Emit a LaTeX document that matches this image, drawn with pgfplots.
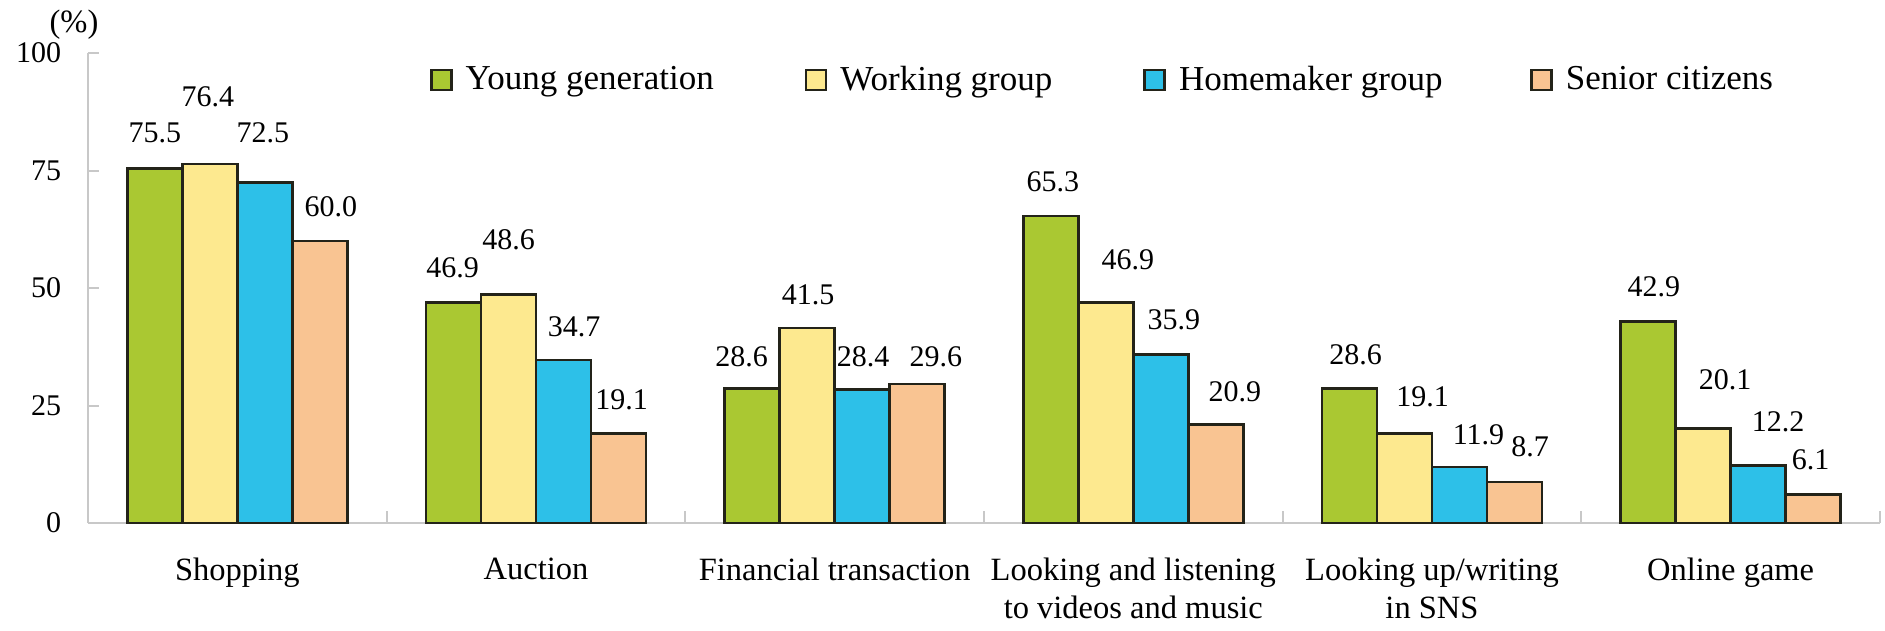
\documentclass[border=0pt]{standalone}
\usepackage{pgfplots}
\pgfplotsset{compat=1.18}
\usepackage{pgfplotstable}
\usepackage{fontspec}
\setmainfont{Liberation Serif}
\definecolor{cG}{RGB}{170,200,50}
\definecolor{cY}{RGB}{253,233,143}
\definecolor{cB}{RGB}{45,192,232}
\definecolor{cO}{RGB}{249,196,146}
\definecolor{barline}{RGB}{35,35,25}
\definecolor{axgray}{RGB}{200,200,200}

% columns: category index, value, label offset x (px), label offset y (px)
\pgfplotstableread{
x y dx dy
0 75.5 0 35
1 46.9 -1 34.6
2 28.6 -10.5 32
3 65.3 2 34.4
4 28.6 6 33.6
5 42.9 5.6 34.7
}\young
\pgfplotstableread{
x y dx dy
0 76.4 -2 67
1 48.6 0 54.6
2 41.5 1 33
3 46.9 22 42.6
4 19.1 18 36.5
5 20.1 22 48.5
}\working
\pgfplotstableread{
x y dx dy
0 72.5 -2 49
1 34.7 10.5 33.4
2 28.4 1 33
3 35.9 13 34.3
4 11.9 19 32
5 12.2 20 44
}\homemaker
\pgfplotstableread{
x y dx dy
0 60.0 11 34
1 19.1 3 33
2 29.6 18.6 27.3
3 20.9 19 33
4 8.7 15.5 35.4
5 6.1 -2.6 34.3
}\senior

\begin{document}
\begin{tikzpicture}
\begin{axis}[
  at={(0,0)}, anchor=south west,
  scale only axis,
  width=716.8pt, height=188pt,
  clip=false,
  ybar=0pt,
  bar width=22pt,
  xmin=-0.5, xmax=5.5,
  ymin=0, ymax=100,
  ytick={0,25,50,75,100},
  xtick={0,1,2,3,4,5},
  minor xtick={0.5,1.5,2.5,3.5,4.5,5.5},
  xticklabels={Shopping, Auction, Financial transaction, {Looking and listening\\to videos and music}, {Looking up/writing\\in SNS}, Online game},
  axis lines=left,
  axis line style={-, draw=axgray, line width=0.9pt},
  tick align=inside,
  major tick length=4.4pt,
  minor tick length=4.8pt,
  major x tick style={draw=none},
  minor x tick style={draw=axgray, line width=0.8pt},
  ytick style={draw=axgray, line width=0.8pt},
  /pgf/number format/assume math mode=true,
  yticklabel style={font=\fontsize{12}{14}\selectfont, xshift=-7.2pt},
  xticklabel style={font=\fontsize{13}{15.4}\selectfont, align=center, anchor=north, yshift=-10.3pt},
  visualization depends on={\thisrow{dx} \as \labdx},
  visualization depends on={\thisrow{dy} \as \labdy},
  nodes near coords={\pgfmathprintnumber[fixed,fixed zerofill,precision=1]{\pgfplotspointmeta}},
  every node near coord/.append style={font=\fontsize{12}{14}\selectfont, text=black, anchor=center, xshift=0.4pt*\labdx, yshift=0.4pt*\labdy},
  legend columns=4,
  legend image code/.code={\draw[#1] (0pt,-4pt) rectangle (8pt,4pt);},
  legend style={draw=none, fill=none, inner sep=0pt, outer sep=0pt,
    at={(rel axis cs:0.1908,0.9426)}, anchor=west,
    font=\fontsize{14}{16}\selectfont,
    nodes={inner sep=0pt, anchor=west},
    /tikz/every odd column/.append style={column sep=5.2pt},
    /tikz/every even column/.append style={column sep=0pt}},
]
\addplot[fill=cG, draw=barline, line width=1.1pt] table[x=x, y=y] {\young};
\addlegendentry{\makebox[135.6pt][l]{Young generation}}
\addplot[fill=cY, draw=barline, line width=1.1pt] table[x=x, y=y] {\working};
\addlegendentry{\makebox[121.2pt][l]{Working group}}
\addplot[fill=cB, draw=barline, line width=1.1pt] table[x=x, y=y] {\homemaker};
\addlegendentry{\makebox[140.4pt][l]{Homemaker group}}
\addplot[fill=cO, draw=barline, line width=1.1pt] table[x=x, y=y] {\senior};
\addlegendentry{Senior citizens}
\node[font=\fontsize{13}{15}\selectfont, anchor=center] at (rel axis cs:-0.0078,1.0596) {(\%)};
\end{axis}
\pgfresetboundingbox
\path[use as bounding box] (-35.2pt,-42.8pt) rectangle (718.8pt,209.2pt);
\end{tikzpicture}
\end{document}
